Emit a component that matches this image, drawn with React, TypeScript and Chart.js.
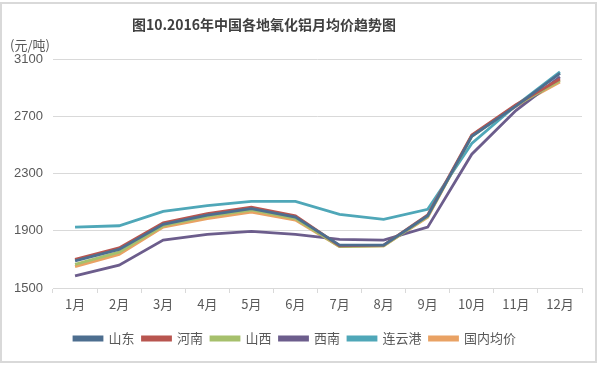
import React, { useEffect, useRef } from "react";
import { Chart, registerables } from "chart.js";

Chart.register(...registerables);

const months = ["1月", "2月", "3月", "4月", "5月", "6月", "7月", "8月", "9月", "10月", "11月", "12月"];
const shandong = [1690, 1770, 1945, 2010, 2055, 1995, 1800, 1800, 2005, 2560, 2770, 3000];
const henan = [1700, 1780, 1955, 2020, 2065, 2005, 1795, 1800, 2010, 2570, 2780, 2960];
const shanxi = [1665, 1750, 1935, 2000, 2045, 1985, 1790, 1795, 2000, 2560, 2775, 2950];
const xinan = [1585, 1660, 1835, 1875, 1895, 1875, 1840, 1835, 1925, 2435, 2740, 2975];
const lianyungang = [1925, 1935, 2035, 2075, 2105, 2105, 2015, 1980, 2050, 2510, 2775, 3010];
const guonei = [1650, 1735, 1925, 1985, 2030, 1975, 1790, 1795, 1995, 2565, 2770, 2940];
const yTicks = [1500, 1900, 2300, 2700, 3100];

const seriesNames = ["山东", "河南", "山西", "西南", "连云港", "国内均价"];
const seriesData = [shandong, henan, shanxi, xinan, lianyungang, guonei];
const seriesColors = ["#4d6e8f", "#b8554f", "#a6c06c", "#6c5d8c", "#4fa7b8", "#e9a264"];

const CJK = '"Noto Sans CJK SC", "Noto Sans", sans-serif';

const decor = {
  id: "decor",
  beforeDraw(chart: any) {
    const { ctx, width, height } = chart;
    ctx.save();
    ctx.fillStyle = "#ffffff";
    ctx.fillRect(0, 0, width, height);
    ctx.strokeStyle = "#d9d9d9";
    ctx.lineWidth = 2;
    ctx.strokeRect(1, 3, width - 4, height - 6);
    ctx.restore();
  },
  afterDraw(chart: any) {
    const { ctx } = chart;
    ctx.save();
    ctx.fillStyle = "#404040";
    ctx.font = `bold 14px ${CJK}`;
    ctx.textAlign = "center";
    ctx.textBaseline = "middle";
    ctx.fillText("图10.2016年中国各地氧化铝月均价趋势图", 264, 25);
    ctx.font = `13px ${CJK}`;
    ctx.fillStyle = "#595959";
    ctx.textAlign = "left";
    ctx.fillText("(元/吨)", 10, 45);
    ctx.restore();
  },
};

export default function App() {
  const ref = useRef<HTMLCanvasElement>(null);
  useEffect(() => {
    if (!ref.current) return;
    const chart = new Chart(ref.current, {
      type: "line",
      data: {
        labels: months,
        datasets: seriesNames.map((n, i) => ({
          label: n,
          data: seriesData[i],
          borderColor: seriesColors[i],
          backgroundColor: seriesColors[i],
          borderWidth: 2.8,
          pointRadius: 0,
          tension: 0,
        })),
      },
      options: {
        responsive: false,
        animation: false,
        layout: { padding: { top: 59, left: 8, right: 17, bottom: 10 } },
        plugins: {
          title: { display: false },
          tooltip: { enabled: false },
          legend: {
            position: "bottom",
            labels: {
              usePointStyle: false,
              boxWidth: 28,
              boxHeight: 3,
              padding: 8,
              color: "#595959",
              font: { size: 13, family: CJK },
            },
          },
        },
        scales: {
          x: {
            offset: true,
            grid: {
              offset: true,
              drawOnChartArea: false,
              drawTicks: true,
              tickLength: 5,
              color: "#d9d9d9",
            },
            border: { color: "#d9d9d9" },
            ticks: { color: "#595959", font: { size: 13, family: CJK }, padding: 3 },
            afterFit: (s: any) => {
              s.height = 36;
            },
          },
          y: {
            min: 1500,
            max: 3100,
            afterBuildTicks: (s: any) => {
              s.ticks = yTicks.map((v) => ({ value: v }));
            },
            grid: { color: "#d9d9d9", drawTicks: false },
            border: { display: false },
            ticks: {
              color: "#595959",
              font: { size: 13, family: '"Liberation Sans", sans-serif' },
              padding: 10,
              callback: (v: any) => String(v),
            },
            afterFit: (s: any) => {
              s.width = 45;
            },
          },
        },
      },
      plugins: [decor],
    });
    return () => chart.destroy();
  }, []);
  return (
    <div style={{ position: "fixed", left: 0, top: 0, width: 599, height: 365, background: "#fff" }}>
      <canvas ref={ref} width={599} height={365} style={{ display: "block" }} />
    </div>
  );
}
